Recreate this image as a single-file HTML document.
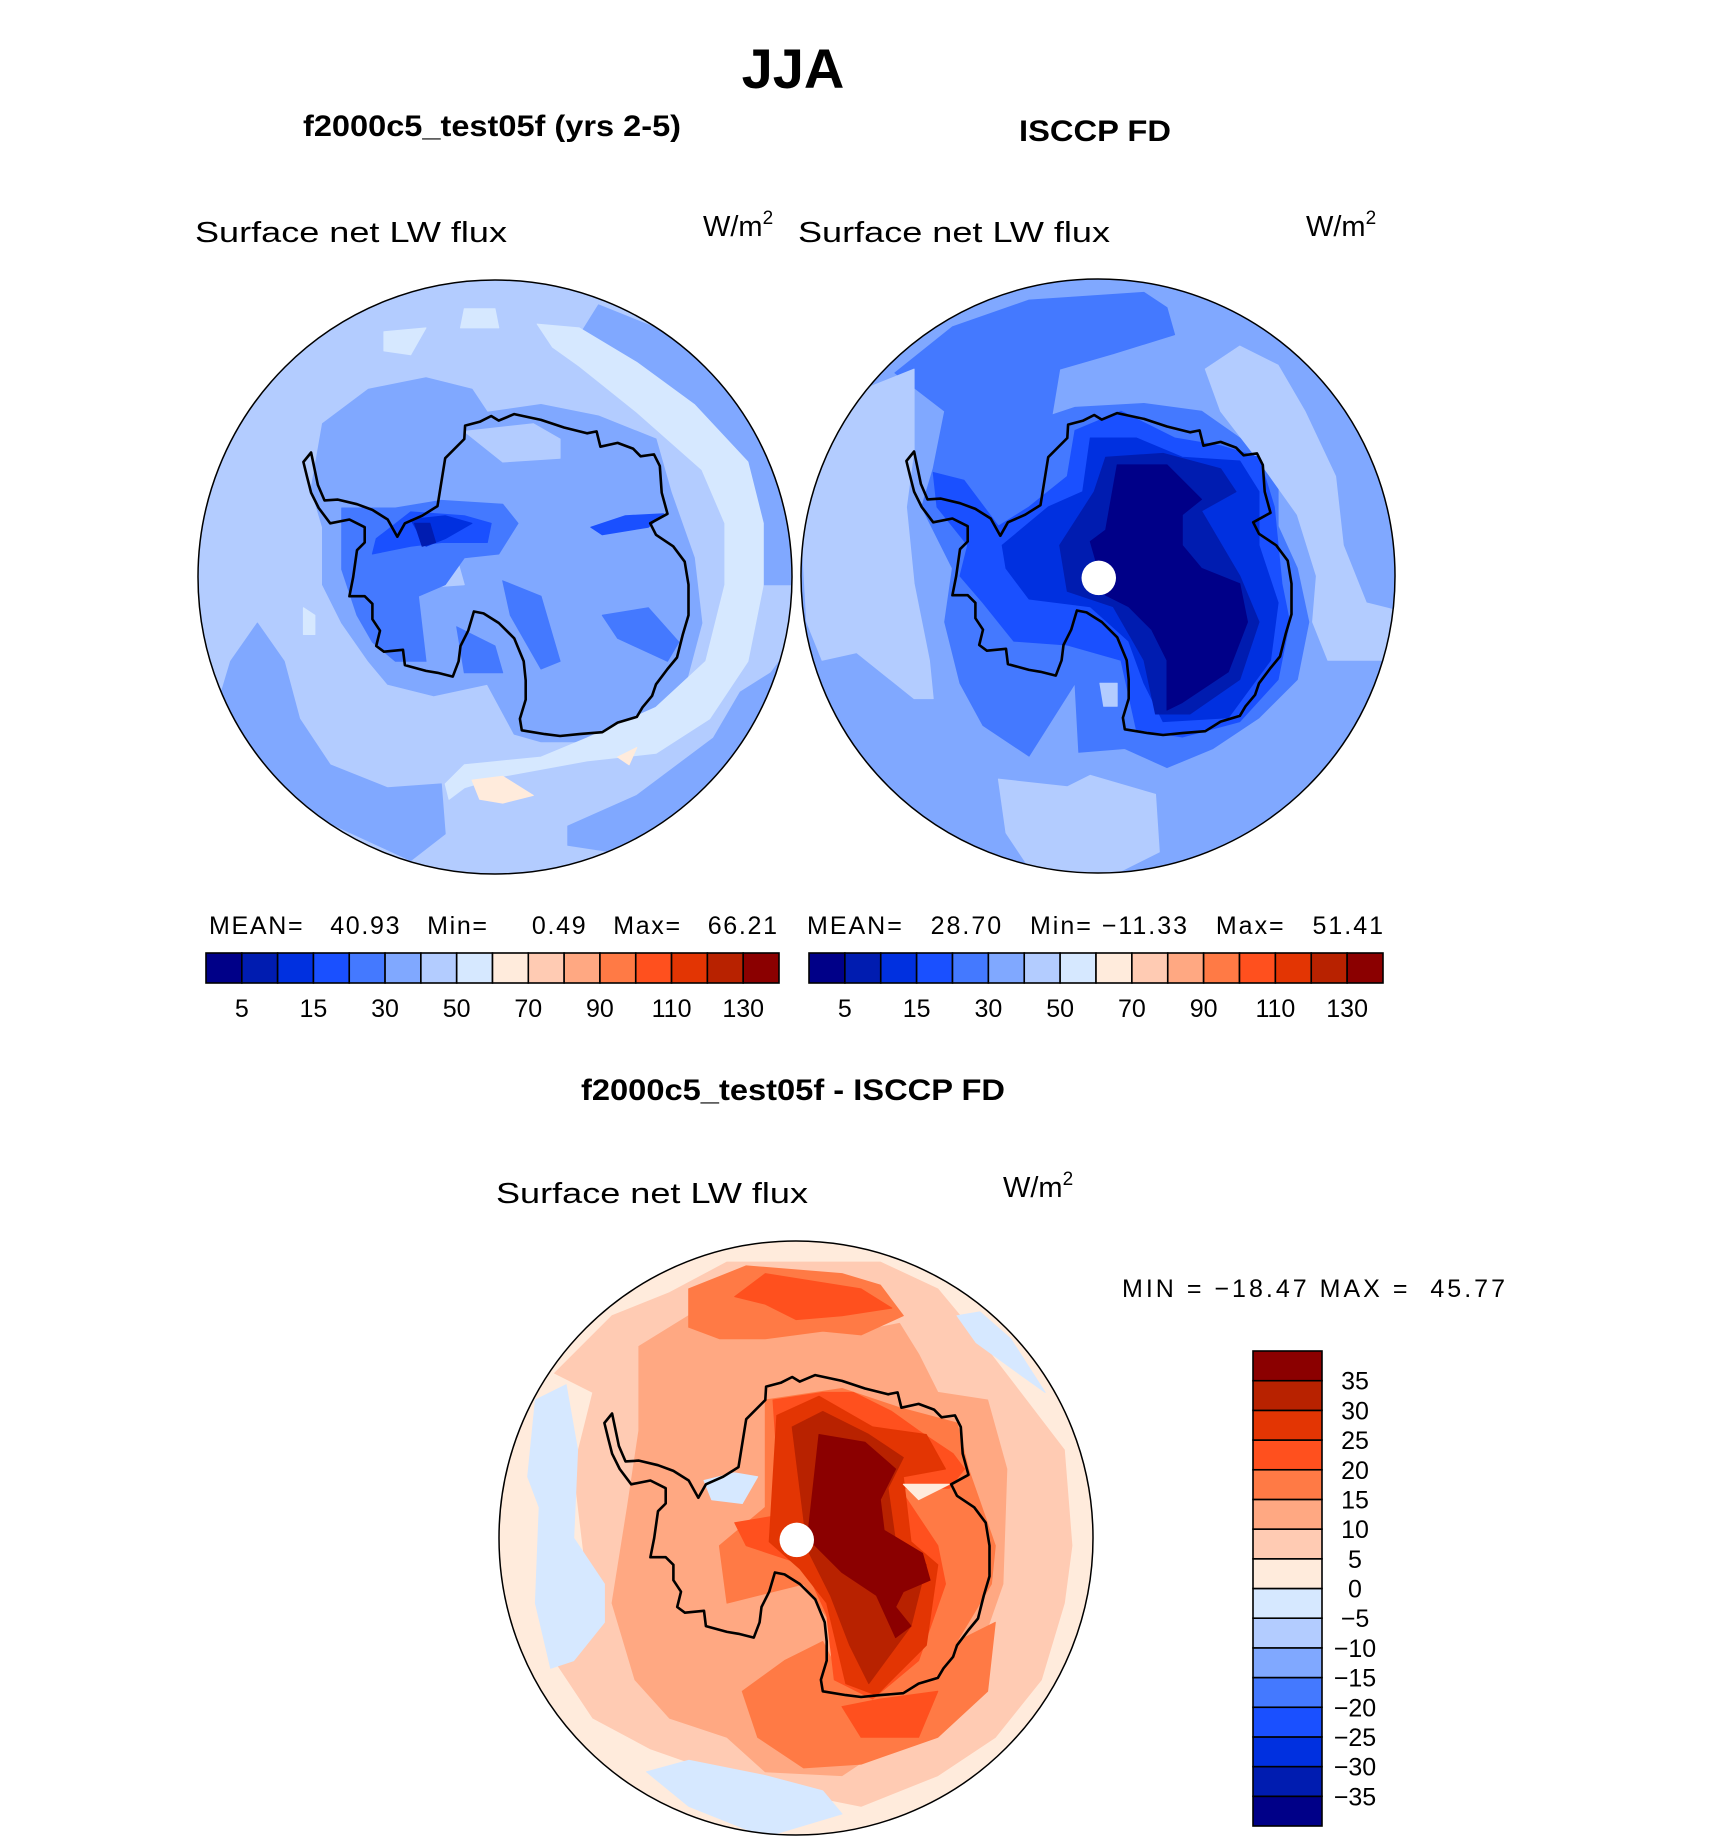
<!DOCTYPE html>
<html><head><meta charset="utf-8"><title>JJA Surface net LW flux</title>
<style>
html,body{margin:0;padding:0;background:#fff;}
svg{display:block;}
text{font-family:"Liberation Sans",sans-serif;fill:#000;}
.b{font-weight:bold;}
</style></head>
<body>
<svg id="fig" width="1710" height="1840" viewBox="0 0 1710 1840" xmlns="http://www.w3.org/2000/svg">
<text class="b" x="793" y="88" font-size="56" text-anchor="middle">JJA</text>
<text class="b" x="492" y="136" font-size="30" text-anchor="middle" textLength="378" lengthAdjust="spacingAndGlyphs">f2000c5_test05f (yrs 2-5)</text>
<text class="b" x="1095" y="141" font-size="30" text-anchor="middle" textLength="152" lengthAdjust="spacingAndGlyphs">ISCCP FD</text>
<text x="195" y="242" font-size="29" textLength="312" lengthAdjust="spacingAndGlyphs">Surface net LW flux</text>
<text x="703" y="236" font-size="29">W/m<tspan font-size="19" dy="-12">2</tspan></text>
<text x="798" y="242" font-size="29" textLength="312" lengthAdjust="spacingAndGlyphs">Surface net LW flux</text>
<text x="1306" y="236" font-size="29">W/m<tspan font-size="19" dy="-12">2</tspan></text>
<text x="209" y="934" font-size="25" textLength="568" lengthAdjust="spacing" xml:space="preserve">MEAN=   40.93   Min=     0.49   Max=   66.21</text>
<text x="807" y="934" font-size="25" textLength="576" lengthAdjust="spacing" xml:space="preserve">MEAN=   28.70   Min= −11.33   Max=   51.41</text>
<text class="b" x="793" y="1100" font-size="30" text-anchor="middle" textLength="424" lengthAdjust="spacingAndGlyphs">f2000c5_test05f - ISCCP FD</text>
<text x="496" y="1203" font-size="29" textLength="312" lengthAdjust="spacingAndGlyphs">Surface net LW flux</text>
<text x="1003" y="1197" font-size="29">W/m<tspan font-size="19" dy="-12">2</tspan></text>
<text x="1122" y="1297" font-size="25" textLength="383" lengthAdjust="spacing" xml:space="preserve">MIN = −18.47 MAX =  45.77</text>
<g id="maps"></g>
<g id="bars"></g>
</svg>
<script>
// ---- colour-bar data ----
const colors = ["#000088","#001CB0","#0030E0","#1A50FF","#4479FF","#80A8FF","#B3CCFF","#D6E8FF","#FFEBDC","#FFCBB3","#FFA882","#FF7A45","#FF501E","#E33503","#B82200","#8B0000"];
const absLevels = [5,10,15,20,30,40,50,60,70,80,90,100,110,120,130];
const absTickLabels = ["5","15","30","50","70","90","110","130"];
const diffLevels = [-35,-30,-25,-20,-15,-10,-5,0,5,10,15,20,25,30,35];
const diffTickLabels = ["−35","−30","−25","−20","−15","−10","−5","0","5","10","15","20","25","30","35"];

// ---- map field data (contour polygons, zoom-frame units 0..1560 across the disk) ----
const coast = [[300,455],[318,540],[335,580],[370,578],[420,590],[460,605],[500,630],[525,675],[545,640],[590,620],[630,595],[650,470],[700,420],[702,385],[740,375],[770,360],[790,372],[830,355],[900,370],[960,390],[1020,405],[1045,400],[1055,440],[1100,430],[1140,445],[1160,465],[1195,460],[1210,490],[1215,560],[1230,615],[1185,640],[1200,670],[1245,700],[1275,740],[1285,800],[1285,880],[1270,930],[1255,990],[1230,1020],[1200,1060],[1190,1090],[1165,1120],[1150,1145],[1100,1160],[1060,1185],[1000,1190],[950,1195],[910,1190],[850,1180],[845,1150],[860,1100],[860,1050],[855,1000],[830,940],[790,900],[750,875],[725,870],[710,920],[690,960],[685,1000],[670,1040],[630,1030],[600,1025],[545,1010],[540,970],[490,975],[470,960],[480,920],[460,890],[460,850],[440,830],[400,830],[410,780],[420,710],[440,690],[440,650],[400,630],[350,640],[320,600],[300,560],[290,520],[280,480],[300,455]];
const leftBase = 6;
const leftLayers = [
 [5,[[90,1000],[160,900],[230,1000],[270,1150],[350,1270],[500,1330],[640,1320],[650,1450],[560,1520],[300,1400],[150,1250],[60,1100]]],
 [5,[[1050,70],[1250,150],[1450,300],[1550,600],[1560,800],[1480,800],[1400,550],[1300,380],[1150,250],[1000,150]]],
 [5,[[1560,950],[1450,1200],[1300,1380],[1100,1500],[970,1480],[970,1430],[1150,1350],[1350,1200],[1420,1080],[1500,1030]]],
 [5,[[330,380],[450,290],[600,260],[720,290],[760,350],[900,330],[1050,360],[1200,420],[1240,560],[1300,730],[1320,900],[1280,1050],[1200,1150],[1050,1210],[900,1210],[830,1190],[760,1060],[620,1090],[500,1060],[450,1000],[380,900],[330,800],[330,650],[300,550]]],
 [6,[[530,740],[680,730],[700,800],[560,810]]],
 [6,[[700,400],[800,480],[950,470],[950,420],[880,380]]],
 [4,[[380,600],[520,600],[640,580],[800,590],[840,640],[790,720],[700,730],[650,800],[580,830],[600,1000],[520,1000],[460,950],[420,880],[380,760]]],
 [4,[[800,790],[900,830],[950,1000],[900,1020],[820,880]]],
 [4,[[1060,880],[1180,860],[1260,950],[1230,1000],[1100,940]]],
 [4,[[680,910],[780,960],[800,1030],[700,1030]]],
 [3,[[470,680],[560,610],[700,620],[770,640],[760,690],[640,690],[560,700],[460,720]]],
 [3,[[1030,650],[1120,620],[1220,615],[1180,650],[1060,670]]],
 [2,[[560,630],[650,620],[720,640],[650,680],[600,700]]],
 [1,[[570,640],[610,640],[625,690],[590,700]]],
 [7,[[890,120],[1000,130],[1150,220],[1300,330],[1440,480],[1480,640],[1480,800],[1440,1000],[1340,1150],[1200,1240],[1020,1260],[800,1300],[700,1330],[660,1360],[650,1320],[700,1270],[900,1250],[1020,1200],[1200,1120],[1330,1000],[1380,800],[1380,640],[1320,500],[1150,350],[1000,230],[930,180]]],
 [7,[[490,140],[600,130],[560,200],[490,190]]],
 [7,[[700,80],[780,80],[790,130],[690,130]]],
 [7,[[280,860],[310,880],[310,930],[280,930]]],
 [8,[[720,1310],[800,1300],[880,1350],[800,1370],[740,1360]]],
 [8,[[1100,1250],[1150,1225],[1130,1270]]]
];
const rightBase = 5;
const rightLayers = [
 [4,[[250,250],[400,130],[600,60],[900,40],[960,80],[980,150],[820,200],[680,240],[660,360],[720,340],[900,330],[1050,350],[1150,420],[1250,500],[1250,650],[1300,760],[1330,900],[1300,1050],[1200,1150],[1080,1230],[960,1280],[850,1230],[730,1240],[720,1060],[600,1250],[480,1170],[420,1060],[380,900],[400,760],[320,600],[350,500],[380,350]]],
 [6,[[0,550],[60,400],[150,300],[300,240],[300,450],[280,600],[300,800],[340,1000],[350,1100],[300,1100],[150,980],[60,1000],[20,900]]],
 [6,[[1060,240],[1150,180],[1250,230],[1320,350],[1400,520],[1420,700],[1480,850],[1560,870],[1520,1000],[1380,1000],[1340,900],[1350,780],[1300,620],[1200,480],[1100,350]]],
 [6,[[520,1310],[700,1330],[760,1300],[930,1350],[940,1500],[820,1560],[600,1540],[540,1450]]],
 [6,[[785,1060],[830,1060],[830,1120],[795,1120]]],
 [3,[[350,510],[430,530],[520,650],[600,600],[700,520],[720,400],[840,350],[980,420],[1100,440],[1200,470],[1240,600],[1260,800],[1280,900],[1250,1050],[1150,1160],[1000,1200],[880,1180],[840,1000],[700,960],[560,950],[480,850],[420,780],[440,700],[360,600]]],
 [2,[[530,700],[650,600],[740,560],[760,420],[880,420],[1000,470],[1150,480],[1200,560],[1200,700],[1250,850],[1230,1000],[1120,1150],[950,1160],[900,1060],[860,950],[760,860],[600,840],[540,760]]],
 [1,[[680,700],[770,560],[800,470],[950,460],[1100,500],[1140,560],[1050,610],[1150,780],[1200,900],[1150,1050],[1020,1140],[930,1140],[900,1000],[820,860],[700,820]]],
 [0,[[760,690],[800,660],[830,490],[960,490],[1050,580],[1000,620],[1000,700],[1050,760],[1150,800],[1170,900],[1120,1030],[1000,1110],[960,1130],[960,1000],[920,920],[860,860],[800,830]]]
];
const diffBase = 8;
const diffLayers = [
 [9,[[150,350],[300,200],[450,140],[600,60],[1000,60],[1150,130],[1250,250],[1350,380],[1480,550],[1500,800],[1480,950],[1420,1150],[1300,1300],[1150,1400],[950,1480],[800,1450],[600,1400],[400,1330],[250,1250],[150,1100],[230,850],[200,600],[250,400]]],
 [7,[[100,420],[180,380],[210,550],[200,780],[280,900],[280,1000],[200,1100],[140,1120],[100,950],[110,700],[80,620]]],
 [7,[[390,1390],[500,1360],[700,1400],[850,1440],[900,1500],[700,1560],[500,1480]]],
 [7,[[1200,200],[1260,190],[1340,260],[1430,400],[1360,350],[1250,270]]],
 [10,[[370,280],[500,200],[700,230],[950,240],[1050,220],[1100,300],[1150,400],[1280,420],[1330,600],[1320,900],[1250,1100],[1200,1250],[1050,1300],[900,1400],[700,1390],[600,1300],[450,1250],[360,1150],[300,950],[340,700],[370,500]]],
 [11,[[500,130],[650,70],[900,90],[1000,120],[1060,200],[950,250],[850,240],[700,260],[580,260],[500,230]]],
 [11,[[640,1180],[750,1100],[850,1050],[900,1150],[1050,1150],[1200,1050],[1300,1000],[1280,1180],[1150,1300],[950,1370],[800,1380],[680,1300]]],
 [11,[[700,420],[900,390],[1050,440],[1200,480],[1230,600],[1300,800],[1290,900],[1200,1050],[1100,1180],[900,1150],[870,1000],[800,900],[600,950],[580,800],[700,700]]],
 [12,[[620,150],[700,90],[950,130],[1030,180],[900,200],[780,210],[700,170]]],
 [12,[[900,1220],[1000,1200],[1150,1180],[1100,1300],[950,1300]]],
 [12,[[720,420],[850,400],[930,400],[1030,450],[1100,500],[1190,560],[1220,600],[1180,650],[1050,650],[1150,800],[1170,900],[1100,1100],[980,1200],[880,1150],[860,980],[800,850],[650,800],[620,740],[740,720]]],
 [13,[[730,460],[840,410],[980,490],[1120,510],[1170,600],[1060,620],[1080,790],[1150,850],[1120,1060],[990,1190],[910,1160],[860,950],[790,860],[710,790]]],
 [14,[[770,490],[850,450],[970,510],[1060,570],[1020,650],[1040,790],[1120,850],[1080,1010],[970,1160],[920,1060],[870,930],[810,810]]],
 [15,[[810,780],[840,510],[960,530],[1040,600],[1000,680],[1010,760],[1110,820],[1130,890],[1060,920],[1040,960],[1080,1010],[1040,1040],[990,930],[900,870],[840,810]]],
 [7,[[540,630],[620,610],[680,620],[640,690],[560,680]]],
 [8,[[1060,640],[1180,640],[1100,680]]]
];

const NS = "http://www.w3.org/2000/svg";
const R = 297;
const S = R / 775;
function px(cx, u) { return cx + (u - 780) * S; }
function py(cy, v) { return cy + (v - 780) * S; }
function ptsStr(cx, cy, pts) { return pts.map(p => px(cx, p[0]).toFixed(1) + "," + py(cy, p[1]).toFixed(1)).join(" "); }

function drawMap(id, cx, cy, base, layers, hole) {
  const maps = document.getElementById("maps");
  const g = document.createElementNS(NS, "g");
  
  
  const cp = document.createElementNS(NS, "clipPath");
  cp.setAttribute("id", id + "-clip");
  const cc = document.createElementNS(NS, "circle");
  cc.setAttribute("cx", cx); cc.setAttribute("cy", cy); cc.setAttribute("r", R);
  cp.appendChild(cc); g.appendChild(cp);
  const inner = document.createElementNS(NS, "g");
  inner.setAttribute("clip-path", "url(#" + id + "-clip)");
  const bg = document.createElementNS(NS, "circle");
  
  
  bg.setAttribute("cx", cx); bg.setAttribute("cy", cy); bg.setAttribute("r", R);
  bg.setAttribute("fill", colors[base]);
  inner.appendChild(bg);
  layers.forEach((L) => {
    const p = document.createElementNS(NS, "polygon");
    
    
    p.setAttribute("points", ptsStr(cx, cy, L[1]));
    p.setAttribute("fill", colors[L[0]]);
    p.setAttribute("stroke", colors[L[0]]);
    p.setAttribute("stroke-width", "1");
    p.setAttribute("stroke-linejoin", "round");
    inner.appendChild(p);
  });
  if (hole) {
    const h = document.createElementNS(NS, "circle");
    
    
    h.setAttribute("cx", px(cx, 782)); h.setAttribute("cy", py(cy, 785)); h.setAttribute("r", 45 * S);
    h.setAttribute("fill", "#fff");
    inner.appendChild(h);
  }
  const cl = document.createElementNS(NS, "polygon");
  
  
  cl.setAttribute("points", ptsStr(cx, cy, coast));
  cl.setAttribute("fill", "none"); cl.setAttribute("stroke", "#000");
  cl.setAttribute("stroke-width", "2.6"); cl.setAttribute("stroke-linejoin", "round");
  inner.appendChild(cl);
  g.appendChild(inner);
  const border = document.createElementNS(NS, "circle");
  
  
  border.setAttribute("cx", cx); border.setAttribute("cy", cy); border.setAttribute("r", R);
  border.setAttribute("fill", "none"); border.setAttribute("stroke", "#000"); border.setAttribute("stroke-width", "1.5");
  g.appendChild(border);
  maps.appendChild(g);
}
drawMap("model", 495, 577, leftBase, leftLayers, false);
drawMap("isccp", 1098, 576, rightBase, rightLayers, true);
drawMap("difference", 796, 1538, diffBase, diffLayers, true);

// ---- colour bars ----
const bars = document.getElementById("bars");
function hBar(id, x0, x1, y0, y1) {
  const n = colors.length, w = (x1 - x0) / n;
  const g = document.createElementNS(NS, "g");
  
  
  colors.forEach((c, i) => {
    const r = document.createElementNS(NS, "rect");
    
    
    r.setAttribute("x", x0 + i * w); r.setAttribute("y", y0);
    r.setAttribute("width", w); r.setAttribute("height", y1 - y0);
    r.setAttribute("fill", c); r.setAttribute("stroke", "#000"); r.setAttribute("stroke-width", "1.6");
    g.appendChild(r);
  });
  absTickLabels.forEach((lab) => {
    const idx = absLevels.indexOf(Number(lab));
    const t = document.createElementNS(NS, "text");
    
    
    t.setAttribute("x", x0 + (idx + 1) * w); t.setAttribute("y", 1017);
    t.setAttribute("font-size", "25"); t.setAttribute("text-anchor", "middle");
    t.textContent = lab;
    g.appendChild(t);
  });
  bars.appendChild(g);
}
hBar("left", 206, 779, 953, 983);
hBar("right", 809, 1383, 953, 983);

(function vBar() {
  const x0 = 1253, x1 = 1322, y0 = 1351, y1 = 1826;
  const n = colors.length, h = (y1 - y0) / n;
  const g = document.createElementNS(NS, "g");
  
  
  colors.forEach((c, i) => {
    const r = document.createElementNS(NS, "rect");
    
    
    r.setAttribute("x", x0); r.setAttribute("y", y1 - (i + 1) * h);
    r.setAttribute("width", x1 - x0); r.setAttribute("height", h);
    r.setAttribute("fill", c); r.setAttribute("stroke", "#000"); r.setAttribute("stroke-width", "1.6");
    g.appendChild(r);
  });
  diffLevels.forEach((lv, i) => {
    const t = document.createElementNS(NS, "text");
    
    
    t.setAttribute("x", 1355); t.setAttribute("y", y1 - (i + 1) * h + 9);
    t.setAttribute("font-size", "25"); t.setAttribute("text-anchor", "middle");
    t.textContent = diffTickLabels[i];
    g.appendChild(t);
  });
  bars.appendChild(g);
})();
</script>
</body></html>
